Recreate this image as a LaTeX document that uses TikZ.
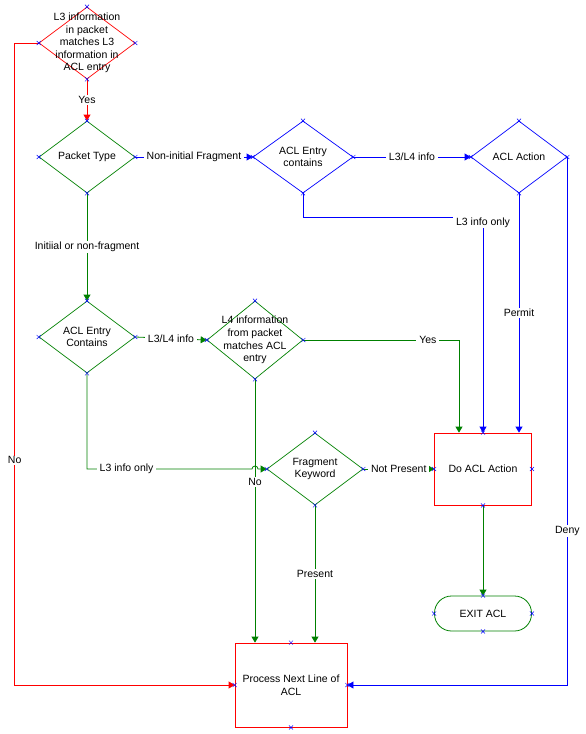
\documentclass[tikz,border=0pt]{standalone}
\usepackage{fontspec}
\setmainfont{Liberation Sans}
\usetikzlibrary{shapes.geometric,arrows.meta,calc}
\definecolor{vgreen}{RGB}{0,128,0}

\begin{document}
\begin{tikzpicture}[x=1pt,y=-1pt,
  font=\fontsize{10.5}{12.6}\selectfont,
  decision/.style={diamond, draw=#1, line width=0.7pt, minimum width=96pt, minimum height=72pt, inner sep=0pt},
  txt/.style={align=center, inner sep=0pt},
  stepbox/.style={rectangle, draw=#1, line width=0.8pt, minimum width=97pt, minimum height=72pt, align=center},
  lbl/.style={fill=white, inner xsep=3pt, inner ysep=1pt},
  link/.style={draw=#1, line width=0.8pt, -{Triangle[length=6pt,width=7pt]}},
  xmark/.style={draw=blue, line width=0.5pt}]
\useasboundingbox (0,0) rectangle (586,734);

\node[decision=red, label={[txt]center:{L3 information\\in packet\\matches L3\\information in\\ACL entry}}] (l3match) at (87,43) {};
\node[decision=vgreen, label={[txt]center:{Packet Type}}] (ptype) at (87,157) {};
\node[decision=blue, minimum width=100pt, label={[txt]center:{ACL Entry\\contains}}] (entry) at (303,157) {};
\node[decision=blue, label={[txt]center:{ACL Action}}] (action) at (519,157) {};
\node[decision=vgreen, label={[txt]center:{ACL Entry\\Contains}}] (contains) at (87,337) {};
\node[decision=vgreen, minimum height=78pt, label={[txt]center:{L4 information\\from packet\\matches ACL\\entry}}] (l4match) at (255,340) {};
\node[decision=vgreen, label={[txt]center:{Fragment\\Keyword}}] (fragkey) at (315,469) {};
\node[stepbox=red] (doact) at (483,469) {Do ACL Action};
\node[stepbox=vgreen, minimum height=35pt, rounded corners=17pt] (exitacl) at (483,613.5) {EXIT ACL};
\node[stepbox=red, minimum width=112pt, minimum height=84pt] (nextline) at (291,685) {Process Next Line of\\ACL};

\draw[link=red] (l3match.south) -- node[lbl]{Yes} (ptype.north);
\draw[link=red] (l3match.west) -- ++(-24,0) |- node[lbl,pos=0.325]{No} (nextline.west);
\draw[link=blue] (ptype.east) -- node[lbl]{Non-initial Fragment} (entry.west);
\draw[link=vgreen] (ptype.south) -- node[lbl]{Initiial or non-fragment} (contains.north);
\draw[link=blue] (entry.east) -- node[lbl]{L3/L4 info} (action.west);
\draw[link=blue] (entry.south) -- ++(0,24) -| node[lbl,pos=0.5,yshift=-5pt]{L3 info only} (doact.north);
\draw[link=blue] (action.south) -- node[lbl]{Permit} (action.south |- doact.north);
\draw[link=blue] (action.east) |- node[lbl,pos=0.354]{Deny} (nextline.east);
\draw[link=vgreen] (contains.east) -- node[lbl]{L3/L4 info} (l4match.west);
\draw[link=vgreen] (contains.south) |- node[lbl,pos=0.62]{L3 info only} ($(l4match.south |- fragkey.west)+(-3,0)$) arc[start angle=180,end angle=0,radius=3pt] -- (fragkey.west);
\draw[link=vgreen] (l4match.east) -| node[lbl,pos=0.4]{Yes} ($(doact.north)+(-24,0)$);
\draw[link=vgreen] (l4match.south) -- node[lbl,pos=0.39]{No} (l4match.south |- nextline.north);
\draw[link=vgreen] (fragkey.east) -- node[lbl]{Not Present} (doact.west);
\draw[link=vgreen] (fragkey.south) -- node[lbl]{Present} (fragkey.south |- nextline.north);
\draw[link=vgreen] (doact.south) -- (exitacl.north);

\foreach \n in {l3match,ptype,entry,action,contains,l4match,fragkey,doact,exitacl,nextline}
  \foreach \a in {north,south,east,west}
    \draw[xmark] (\n.\a) +(-2,-2) -- +(2,2) +(-2,2) -- +(2,-2);
\end{tikzpicture}
\end{document}
